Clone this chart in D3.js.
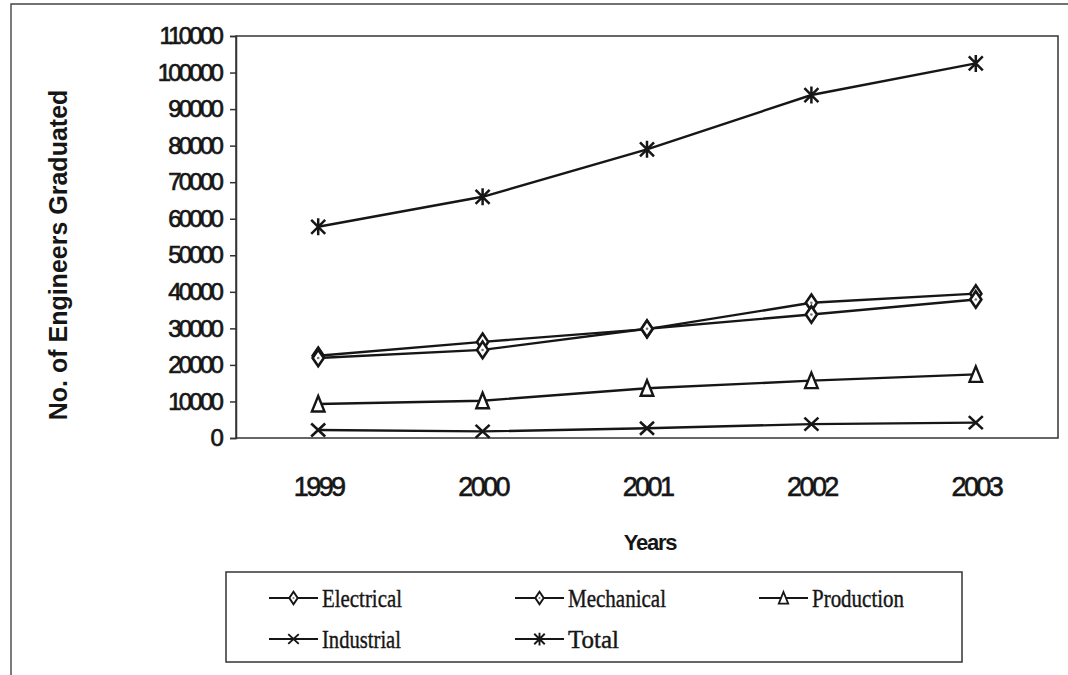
<!DOCTYPE html>
<html>
<head>
<meta charset="utf-8">
<script src="https://cdn.jsdelivr.net/npm/d3@7"></script>
<style>
  html, body { margin: 0; padding: 0; background: #fff; }
  svg { display: block; }
</style>
</head>
<body>
<svg id="chart" width="1068" height="675"></svg>
<script>
// Engineering graduates by discipline, 1999-2003
const years = ["1999", "2000", "2001", "2002", "2003"];
const electrical = [22500, 26300, 29800, 37000, 39500];
const mechanical = [21900, 24100, 29900, 33800, 37900];
const production = [9300, 10200, 13600, 15700, 17400];
const industrial = [2200, 1800, 2650, 3800, 4200];
const total = [57800, 66000, 79000, 93850, 102500];
const yTicks = [0, 10000, 20000, 30000, 40000, 50000, 60000, 70000, 80000, 90000, 100000, 110000];

const seriesNames = ["Electrical", "Mechanical", "Production", "Industrial", "Total"];
const seriesValues = [electrical, mechanical, production, industrial, total];
const seriesMarkers = ["diamond", "diamond", "triangle", "cross", "asterisk"];
// printed widths of the condensed legend labels
const legendWidths = [80, 98, 92, 79, 51];

const ink = "#161616";
const svg = d3.select("#chart");

// outer page frame (continues past the edges)
svg.append("path")
  .attr("d", "M11,700 L11,4 L1100,4")
  .attr("fill", "none").attr("stroke", "#444").attr("stroke-width", 1.4);

const plot = { left: 236, top: 36, right: 1058, bottom: 438 };

const x = d3.scalePoint().domain(years).range([plot.left, plot.right]).padding(0.5);
const y = d3.scaleLinear().domain([0, 110000]).range([plot.bottom, plot.top]);

// plot area frame
svg.append("rect")
  .attr("x", plot.left).attr("y", plot.top)
  .attr("width", plot.right - plot.left).attr("height", plot.bottom - plot.top)
  .attr("fill", "none").attr("stroke", "#333").attr("stroke-width", 1.5);

// y axis
const yAxis = svg.append("g")
  .attr("transform", `translate(${plot.left},0)`)
  .call(d3.axisLeft(y).tickValues(yTicks).tickSize(6).tickPadding(9).tickFormat(d3.format("d")));
yAxis.select(".domain").attr("stroke", "#333").attr("stroke-width", 1.5);
yAxis.selectAll(".tick line").attr("stroke", "#333").attr("stroke-width", 1.5);
yAxis.selectAll(".tick text")
  .attr("fill", ink)
  .attr("stroke", ink).attr("stroke-width", 0.7)
  .style("font-family", "'Liberation Sans', Arial, sans-serif")
  .style("font-size", "24px")
  .style("letter-spacing", "-2.8px");

// x axis (labels only)
const xAxis = svg.append("g")
  .attr("transform", `translate(0,${plot.bottom})`)
  .call(d3.axisBottom(x).tickSize(0).tickPadding(39));
xAxis.select(".domain").remove();
xAxis.selectAll(".tick text")
  .attr("fill", ink)
  .attr("stroke", ink).attr("stroke-width", 0.6)
  .attr("dy", "0.71em")
  .style("font-family", "'Liberation Sans', Arial, sans-serif")
  .style("font-size", "27px")
  .style("letter-spacing", "-2.6px");

// axis titles
svg.append("text")
  .attr("transform", "translate(58,255) rotate(-90)")
  .attr("text-anchor", "middle").attr("dominant-baseline", "central")
  .attr("fill", ink)
  .style("font-family", "'Liberation Sans', Arial, sans-serif")
  .style("font-weight", "bold").style("font-size", "25px")
  .text("No. of Engineers Graduated");

svg.append("text")
  .attr("x", 650).attr("y", 542)
  .attr("text-anchor", "middle").attr("dominant-baseline", "central")
  .attr("fill", ink)
  .style("font-family", "'Liberation Sans', Arial, sans-serif")
  .style("font-weight", "bold").style("font-size", "22px")
  .style("letter-spacing", "-1.2px")
  .text("Years");

// marker shapes
function drawMarker(g, type) {
  if (type === "diamond") {
    g.append("path").attr("d", "M0,-8.3 L5.6,0 L0,8.3 L-5.6,0 Z")
      .attr("fill", "#fff").attr("stroke", ink).attr("stroke-width", 2.6);
    g.append("circle").attr("r", 1.3).attr("fill", "#777");
  } else if (type === "triangle") {
    g.append("path").attr("d", "M0,-8 L6.3,7.5 L-6.3,7.5 Z")
      .attr("fill", "#fff").attr("stroke", ink).attr("stroke-width", 2.4);
  } else if (type === "cross") {
    g.append("path").attr("d", "M-7,-6.5 L7,6.5 M-7,6.5 L7,-6.5")
      .attr("fill", "none").attr("stroke", ink).attr("stroke-width", 2.6);
  } else if (type === "asterisk") {
    g.append("path").attr("d", "M-7,-7 L7,7 M-7,7 L7,-7 M0,-8.5 L0,8.5")
      .attr("fill", "none").attr("stroke", ink).attr("stroke-width", 2.5);
  }
}

const line = d3.line().x((d, i) => x(years[i])).y(d => y(d));

seriesValues.forEach((vals) => {
  svg.append("path")
    .datum(vals)
    .attr("d", line)
    .attr("fill", "none").attr("stroke", ink).attr("stroke-width", 2.4);
});
seriesValues.forEach((vals, s) => {
  vals.forEach((v, i) => {
    const g = svg.append("g").attr("transform", `translate(${x(years[i])},${y(v)})`);
    drawMarker(g, seriesMarkers[s]);
  });
});

// legend
const legend = svg.append("g");
legend.append("rect")
  .attr("x", 226).attr("y", 572).attr("width", 736).attr("height", 90)
  .attr("fill", "#fff").attr("stroke", "#333").attr("stroke-width", 1.5);

const legendPos = [
  { lx: 269, ty: 598 }, { lx: 515, ty: 598 }, { lx: 759, ty: 598 },
  { lx: 269, ty: 639 }, { lx: 515, ty: 639 }
];
seriesNames.forEach((name, s) => {
  const p = legendPos[s];
  const item = legend.append("g").attr("transform", `translate(${p.lx},${p.ty})`);
  item.append("line").attr("x1", 0).attr("x2", 49).attr("y1", 0).attr("y2", 0)
    .attr("stroke", ink).attr("stroke-width", 2);
  const m = item.append("g").attr("transform", "translate(24.5,0) scale(0.75)");
  drawMarker(m, seriesMarkers[s]);
  item.append("text")
    .attr("x", 53).attr("y", 0).attr("dominant-baseline", "central")
    .attr("fill", ink)
    .attr("stroke", ink).attr("stroke-width", 0.4)
    .attr("textLength", legendWidths[s]).attr("lengthAdjust", "spacingAndGlyphs")
    .style("font-family", "'Liberation Serif', 'Times New Roman', serif")
    .style("font-size", "26px")
    .text(name);
});
</script>
</body>
</html>
